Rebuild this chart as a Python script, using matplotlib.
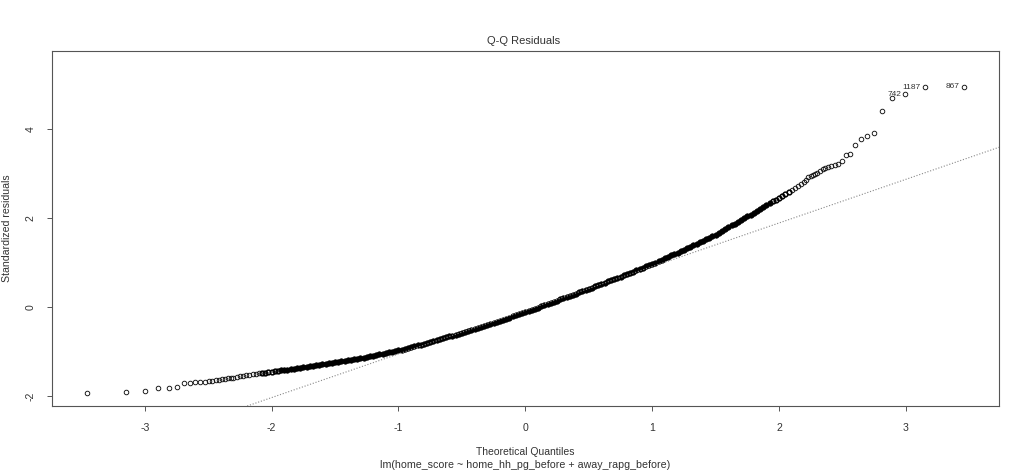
import numpy as np
import matplotlib
matplotlib.use("Agg")
import matplotlib.pyplot as plt
from statistics import NormalDist

# ---------------- data ----------------
n_obs = 1830  # number of residuals (from spacing of extreme quantiles)

# left tail: ranks 1..20 (smallest standardized residuals)
left_ranks = list(range(1, 21))
left_resid = [-1.930, -1.914, -1.880, -1.815, -1.810, -1.790, -1.700, -1.700,
              -1.690, -1.685, -1.675, -1.665, -1.655, -1.645, -1.635, -1.625,
              -1.615, -1.605, -1.595, -1.585]

# right tail: ranks n-24..n (largest standardized residuals), ascending
right_ranks = list(range(n_obs - 24, n_obs + 1))
right_resid = [2.86, 2.92, 2.94, 2.96, 2.99, 3.02, 3.06, 3.10, 3.13, 3.15,
               3.17, 3.19, 3.22, 3.28, 3.41, 3.44, 3.64, 3.79, 3.845, 3.905,
               4.40, 4.71, 4.79, 4.94, 4.955]

# dense middle band: residual read at theoretical quantiles -2.275 .. 2.200 (step 0.025)
mid_quant = np.round(np.arange(-2.275, 2.2001, 0.025), 3)
mid_resid = [
    -1.564, -1.553, -1.543, -1.532, -1.521, -1.510, -1.501, -1.492, -1.482, -1.473,
    -1.464, -1.455, -1.445, -1.435, -1.425, -1.415, -1.405, -1.395, -1.385, -1.375,
    -1.365, -1.355, -1.344, -1.333, -1.322, -1.311, -1.300, -1.289, -1.278, -1.267,
    -1.256, -1.245, -1.233, -1.221, -1.209, -1.197, -1.185, -1.173, -1.161, -1.149,
    -1.137, -1.125, -1.110, -1.095, -1.080, -1.065, -1.050, -1.035, -1.020, -1.005,
    -0.990, -0.975, -0.957, -0.938, -0.920, -0.901, -0.883, -0.864, -0.846, -0.827,
    -0.809, -0.790, -0.769, -0.747, -0.726, -0.704, -0.683, -0.661, -0.640, -0.618,
    -0.597, -0.575, -0.553, -0.530, -0.508, -0.485, -0.463, -0.440, -0.418, -0.395,
    -0.373, -0.350, -0.327, -0.304, -0.281, -0.258, -0.235, -0.212, -0.189, -0.166,
    -0.143, -0.120, -0.094, -0.067, -0.041, -0.014, 0.013, 0.039, 0.066, 0.092,
    0.119, 0.145, 0.172, 0.198, 0.225, 0.251, 0.278, 0.304, 0.331, 0.357,
    0.384, 0.410, 0.438, 0.465, 0.493, 0.520, 0.548, 0.575, 0.603, 0.630,
    0.658, 0.685, 0.714, 0.742, 0.771, 0.799, 0.828, 0.856, 0.885, 0.913,
    0.942, 0.970, 1.002, 1.034, 1.066, 1.098, 1.130, 1.162, 1.194, 1.226,
    1.258, 1.290, 1.324, 1.358, 1.392, 1.426, 1.460, 1.494, 1.528, 1.562,
    1.596, 1.630, 1.671, 1.712, 1.753, 1.794, 1.835, 1.876, 1.917, 1.958,
    1.999, 2.040, 2.082, 2.124, 2.166, 2.208, 2.250, 2.292, 2.334, 2.376,
    2.418, 2.460, 2.505, 2.550, 2.595, 2.640, 2.685, 2.730, 2.775, 2.820,
]

# sample quartiles of the residuals (define the reference qq-line)
resid_q25 = -0.735
resid_q75 = 0.590

# labelled extreme observations (rank -> observation id)
label_ranks = [n_obs, n_obs - 1, n_obs - 2]
label_ids = ["867", "1187", "742"]

title = "Q-Q Residuals"
x_label = "Theoretical Quantiles"
sub_caption = "lm(home_score ~ home_hh_pg_before + away_rapg_before)"
y_label = "Standardized residuals"
x_ticks = [-3, -2, -1, 0, 1, 2, 3]
y_ticks = [-2, 0, 2, 4]

# ---------------- computation (as qqnorm / qqline do) ----------------
nd = NormalDist()
def theo(rank):
    return nd.inv_cdf((rank - 0.5) / n_obs)

left_q = [theo(r) for r in left_ranks]
right_q = [theo(r) for r in right_ranks]

xq = np.concatenate([left_q, mid_quant, right_q])
yr = np.concatenate([left_resid, mid_resid, right_resid])

z25, z75 = nd.inv_cdf(0.25), nd.inv_cdf(0.75)
slope = (resid_q75 - resid_q25) / (z75 - z25)
intercept = resid_q25 - slope * z25

# ---------------- drawing ----------------
plt.rcParams['font.family'] = ['Liberation Sans', 'DejaVu Sans']
txt_col = '#333333'
W, H = 1024, 472
fig = plt.figure(figsize=(W / 100, H / 100), dpi=100)
L, R, T, B = 51.7, 999.0, 50.7, 406.0
ax = fig.add_axes([L / W, 1 - B / H, (R - L) / W, (B - T) / H])

# where the real points overlap heavily, the band renders solid black
dense = np.abs(xq) < 1.95
semi = (np.abs(xq) >= 1.95) & (np.abs(xq) < 2.1)
sparse = ~(dense | semi)
ax.plot(xq[sparse], yr[sparse], linestyle='none', marker='o', markersize=3.3,
        markerfacecolor='none', markeredgecolor='#111111', markeredgewidth=0.65)
ax.plot(xq[semi], yr[semi], linestyle='none', marker='o', markersize=3.4,
        markerfacecolor='none', markeredgecolor='#000000', markeredgewidth=1.1)
ax.plot(xq[dense], yr[dense], linestyle='none', marker='o', markersize=4.0,
        markerfacecolor='#000000', markeredgecolor='#000000', markeredgewidth=0.4)

ax.axline((0, intercept), slope=slope, color='#888888', linewidth=0.8,
          linestyle=(0, (1, 1.6)))

# axis ranges following R's plot.lm logic
xmin, xmax = min(xq), max(xq)
ax.set_xlim(xmin - 0.04 * (xmax - xmin), xmax + 0.04 * (xmax - xmin))
ymin, ymax = min(yr), max(yr)
ymax2 = ymax + 0.075 * (ymax - ymin)
ax.set_ylim(ymin - 0.04 * (ymax2 - ymin), ymax2 + 0.04 * (ymax2 - ymin))

for r, lab in zip(label_ranks, label_ids):
    ax.annotate(lab, (theo(r), right_resid[r - right_ranks[0]]),
                xytext=(-3.2, 0), textcoords='offset points',
                ha='right', va='center', fontsize=6.0, color=txt_col)

ax.set_xticks(x_ticks)
ax.set_yticks(y_ticks)
ax.set_xticklabels([str(t) for t in x_ticks], fontsize=7.6, color=txt_col)
ax.set_yticklabels([str(t) for t in y_ticks], fontsize=7.6, color=txt_col,
                   rotation=90, va='center')
ax.tick_params(axis='both', direction='out', length=3.6, width=0.7,
               color='#555555')
ax.tick_params(axis='x', pad=8.5)
ax.tick_params(axis='y', pad=8)
for s in ax.spines.values():
    s.set_color('#555555')
    s.set_linewidth(0.8)

fig.text(524 / W, 1 - 41.3 / H, title, ha='center', va='center',
         fontsize=8.0, color=txt_col)
fig.text(525 / W, 1 - 452 / H, x_label, ha='center', va='center',
         fontsize=7.5, color=txt_col)
fig.text(525 / W, 1 - 465.5 / H, sub_caption, ha='center', va='center',
         fontsize=7.7, color=txt_col)
fig.text(7.5 / W, 1 - 228 / H, y_label, ha='center', va='center',
         rotation=90, fontsize=7.6, color=txt_col)

fig.savefig('out.png', dpi=100)
